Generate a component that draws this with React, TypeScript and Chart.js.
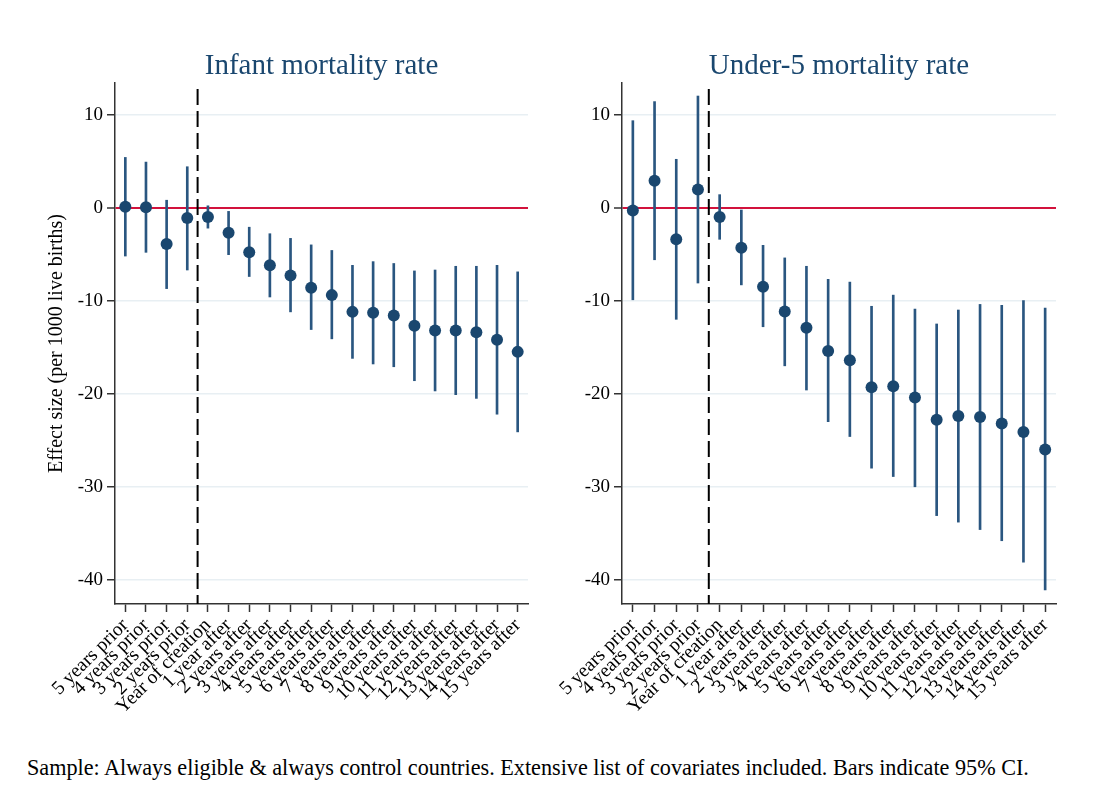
import React, { useEffect, useRef } from 'react';
import { Chart, registerables } from 'chart.js';

Chart.register(...registerables);

const categories = [
  '5 years prior', '4 years prior', '3 years prior', '2 years prior', 'Year of creation',
  '1 year after', '2 years after', '3 years after', '4 years after', '5 years after',
  '6 years after', '7 years after', '8 years after', '9 years after', '10 years after',
  '11 years after', '12 years after', '13 years after', '14 years after', '15 years after',
];
const yTicks = [-40, -30, -20, -10, 0, 10];
const treatmentBoundary = 3.5;

const imrEstimate = [0.1, 0.05, -3.9, -1.1, -1.0, -2.7, -4.8, -6.2, -7.3, -8.6, -9.4, -11.2, -11.3, -11.6, -12.7, -13.2, -13.2, -13.4, -14.2, -15.5];
const imrLower = [-5.2, -4.8, -8.7, -6.7, -2.2, -5.05, -7.4, -9.6, -11.2, -13.1, -14.1, -16.2, -16.8, -17.1, -18.6, -19.7, -20.1, -20.5, -22.2, -24.1];
const imrUpper = [5.4, 4.9, 0.8, 4.4, 0.2, -0.4, -2.1, -2.8, -3.3, -4.0, -4.6, -6.2, -5.8, -6.0, -6.8, -6.7, -6.3, -6.3, -6.2, -6.9];

const u5Estimate = [-0.3, 2.9, -3.4, 1.95, -1.0, -4.3, -8.5, -11.15, -12.9, -15.4, -16.4, -19.3, -19.2, -20.4, -22.8, -22.4, -22.5, -23.2, -24.1, -26.0];
const u5Lower = [-9.9, -5.6, -12.0, -8.1, -3.4, -8.3, -12.8, -17.0, -19.6, -23.0, -24.6, -28.0, -28.9, -30.0, -33.1, -33.8, -34.6, -35.8, -38.1, -41.1];
const u5Upper = [9.35, 11.4, 5.2, 12.0, 1.4, -0.25, -4.05, -5.4, -6.3, -7.7, -8.0, -10.6, -9.4, -10.9, -12.5, -11.0, -10.4, -10.5, -10.0, -10.8];

const FONT = '"Liberation Serif", "Times New Roman", serif';
const NAVY = '#1a476f';
const CI = '#2a5680';
const RED = '#d2123c';
const GRID = '#e8eff3';
const AXIS = '#333333';

const dividerPlugin = {
  id: 'divider',
  afterDatasetsDraw(chart: any) {
    const x = chart.scales.x;
    const y = chart.scales.y;
    const px = x.getPixelForValue(treatmentBoundary);
    const ctx = chart.ctx;
    ctx.save();
    ctx.beginPath();
    ctx.setLineDash([16, 6]);
    ctx.lineDashOffset = 0;
    ctx.strokeStyle = '#000';
    ctx.lineWidth = 2;
    ctx.moveTo(px, y.top + 6);
    ctx.lineTo(px, y.bottom);
    ctx.stroke();
    ctx.restore();
  },
};

type PanelProps = {
  title: string;
  est: number[];
  lo: number[];
  hi: number[];
  yTitle?: string;
  left: number;
  width: number;
  axisWidth: number;
  padRight: number;
};

function Panel({ title, est, lo, hi, yTitle, left, width, axisWidth, padRight }: PanelProps) {
  const ref = useRef<HTMLCanvasElement | null>(null);
  useEffect(() => {
    if (!ref.current) return;
    const chart = new Chart(ref.current, {
      type: 'bar',
      data: {
        labels: categories,
        datasets: [
          {
            type: 'line',
            data: est,
            showLine: false,
            pointRadius: 6,
            pointHoverRadius: 6,
            pointBackgroundColor: NAVY,
            pointBorderWidth: 0,
            order: 0,
          } as any,
          {
            type: 'bar',
            data: lo.map((l, i) => [l, hi[i]]),
            backgroundColor: CI,
            barThickness: 2,
            borderSkipped: false,
            order: 1,
          } as any,
        ],
      },
      options: {
        responsive: false,
        maintainAspectRatio: false,
        animation: false,
        events: [],
        layout: { padding: { left: 0, right: padRight, top: 0, bottom: 0 } },
        plugins: {
          legend: { display: false },
          tooltip: { enabled: false },
          title: {
            display: true,
            text: title,
            color: NAVY,
            fullSize: false,
            font: { family: FONT, size: 29, weight: 'normal' },
            padding: { top: 49, bottom: -0.8 },
          },
        },
        scales: {
          x: {
            type: 'category',
            offset: true,
            grid: {
              display: true,
              offset: false,
              drawOnChartArea: false,
              drawTicks: true,
              tickLength: 8,
              tickColor: AXIS,
              tickWidth: 1.5,
            },
            border: { display: true, color: AXIS, width: 1.5 },
            ticks: {
              autoSkip: false,
              minRotation: 45,
              maxRotation: 45,
              color: '#000',
              font: { family: FONT, size: 19.5 },
              padding: 2,
            },
            afterFit: (s: any) => {
              s.height = 136;
            },
          },
          y: {
            type: 'linear',
            min: -42.6,
            max: 13.4,
            afterBuildTicks: (s: any) => {
              s.ticks = yTicks.map((v) => ({ value: v }));
            },
            grid: {
              color: (c: any) => (c.tick && c.tick.value === 0 ? RED : GRID),
              lineWidth: (c: any) => (c.tick && c.tick.value === 0 ? 2 : 1.5),
              tickColor: AXIS,
              tickLength: 8,
              tickWidth: 1.5,
            },
            border: { display: true, color: AXIS, width: 1.5 },
            ticks: {
              color: '#000',
              font: { family: FONT, size: 19 },
              padding: 4,
            },
            title: yTitle
              ? {
                  display: true,
                  text: yTitle,
                  color: '#000',
                  font: { family: FONT, size: 20 },
                  padding: { top: 45, bottom: 0 },
                }
              : { display: false },
            afterFit: (s: any) => {
              s.width = axisWidth;
            },
          },
        },
      } as any,
      plugins: [dividerPlugin],
    });
    return () => chart.destroy();
  }, []);
  return (
    <canvas
      ref={ref}
      width={width}
      height={740}
      style={{ position: 'absolute', left, top: 0, width, height: 740 }}
    />
  );
}

export default function App() {
  return (
    <div
      style={{
        position: 'absolute',
        left: 0,
        top: 0,
        width: 1097,
        height: 799,
        background: '#fff',
        overflow: 'hidden',
      }}
    >
      <Panel
        title="Infant mortality rate"
        est={imrEstimate}
        lo={imrLower}
        hi={imrUpper}
        yTitle="Effect size (per 1000 live births)"
        left={0}
        width={545}
        axisWidth={115}
        padRight={17}
      />
      <Panel
        title="Under-5 mortality rate"
        est={u5Estimate}
        lo={u5Lower}
        hi={u5Upper}
        left={545}
        width={552}
        axisWidth={77}
        padRight={41}
      />
      <div
        style={{
          position: 'absolute',
          left: 27,
          top: 757,
          fontFamily: FONT,
          fontSize: 22.2,
          lineHeight: '22px',
          color: '#000',
          whiteSpace: 'nowrap',
        }}
      >
        Sample: Always eligible &amp; always control countries. Extensive list of covariates included. Bars indicate 95% CI.
      </div>
    </div>
  );
}
